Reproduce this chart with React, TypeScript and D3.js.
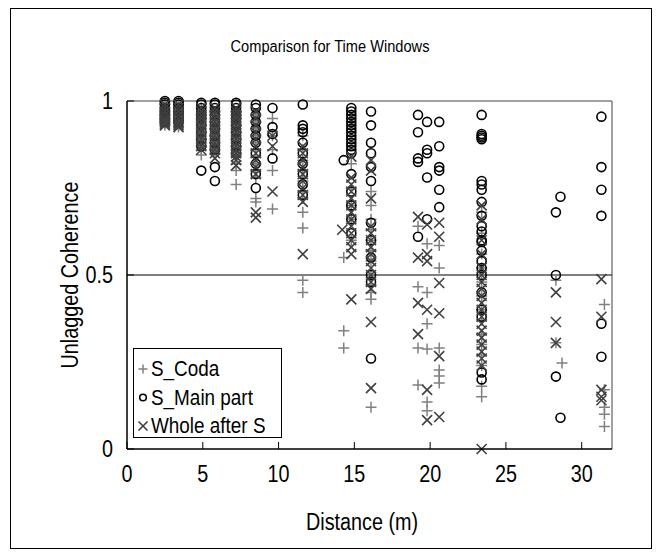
import React from "react";
import * as d3 from "d3";

// ---- data (distance, coherence values) ----
const seriesNames = ["S_Coda", "S_Main part", "Whole after S"];

const sCoda: [number, number[]][] = [
  [2.5, [0.99, 0.98, 0.975, 0.97, 0.965, 0.96, 0.955, 0.95, 0.945, 0.94, 0.935, 0.93]],
  [3.4, [0.99, 0.985, 0.98, 0.97, 0.965, 0.96, 0.95, 0.945, 0.94, 0.935, 0.93, 0.925]],
  [4.9, [0.98, 0.96, 0.95, 0.94, 0.93, 0.92, 0.91, 0.9, 0.89, 0.88, 0.87, 0.86, 0.845]],
  [5.8, [0.97, 0.96, 0.95, 0.94, 0.93, 0.92, 0.9, 0.89, 0.88, 0.87, 0.86, 0.85]],
  [7.2, [0.97, 0.96, 0.95, 0.94, 0.93, 0.92, 0.91, 0.9, 0.89, 0.88, 0.87, 0.86, 0.85, 0.84, 0.82, 0.8, 0.76]],
  [8.5, [0.96, 0.94, 0.92, 0.9, 0.88, 0.86, 0.84, 0.82, 0.8, 0.78, 0.72, 0.71]],
  [9.6, [0.95, 0.9, 0.86, 0.8, 0.69]],
  [11.6, [0.9, 0.86, 0.83, 0.8, 0.77, 0.74, 0.72, 0.68, 0.635, 0.485, 0.45]],
  [14.3, [0.55, 0.34, 0.29]],
  [14.8, [0.82, 0.75, 0.7, 0.66, 0.6]],
  [16.1, [0.74, 0.7, 0.66, 0.63, 0.6, 0.57, 0.54, 0.5, 0.47, 0.45, 0.43, 0.12]],
  [19.2, [0.64, 0.466, 0.29, 0.184]],
  [19.8, [0.59, 0.45, 0.36, 0.287, 0.135, 0.11]],
  [20.6, [0.585, 0.52, 0.29, 0.227, 0.21, 0.19]],
  [23.4, [0.68, 0.62, 0.56, 0.52, 0.48, 0.44, 0.4, 0.37, 0.33, 0.3, 0.27, 0.24, 0.18, 0.15]],
  [28.3, [0.485, 0.305]],
  [28.7, [0.247]],
  [31.5, [0.415, 0.17, 0.12, 0.1, 0.065]],
];

const sMain: [number, number[]][] = [
  [2.5, [1.0, 0.995, 0.99, 0.98, 0.97, 0.96, 0.95, 0.94]],
  [3.4, [1.0, 0.995, 0.99, 0.98, 0.97, 0.96, 0.95, 0.94]],
  [4.9, [0.995, 0.99, 0.98, 0.97, 0.96, 0.95, 0.93, 0.91, 0.89, 0.87, 0.8]],
  [5.8, [0.995, 0.99, 0.98, 0.97, 0.96, 0.94, 0.92, 0.9, 0.88, 0.86, 0.81, 0.77]],
  [7.2, [0.995, 0.99, 0.98, 0.97, 0.96, 0.95, 0.93, 0.91, 0.89, 0.87, 0.85]],
  [8.5, [0.99, 0.98, 0.96, 0.94, 0.92, 0.9, 0.88, 0.85, 0.82, 0.79, 0.75]],
  [9.6, [0.98, 0.925, 0.905, 0.835]],
  [11.6, [0.99, 0.93, 0.92, 0.91, 0.88, 0.85, 0.82, 0.79, 0.76, 0.73]],
  [14.8, [0.98, 0.97, 0.96, 0.95, 0.94, 0.93, 0.92, 0.91, 0.9, 0.89, 0.88, 0.87, 0.86, 0.85, 0.79, 0.74, 0.7, 0.66, 0.62]],
  [14.3, [0.83]],
  [16.1, [0.97, 0.93, 0.88, 0.85, 0.81, 0.77, 0.65, 0.6, 0.55, 0.5, 0.48, 0.26]],
  [19.2, [0.96, 0.91, 0.835, 0.825, 0.61]],
  [19.8, [0.94, 0.86, 0.85, 0.78, 0.66]],
  [20.6, [0.94, 0.87, 0.81, 0.8, 0.745, 0.695]],
  [23.4, [0.96, 0.905, 0.9, 0.895, 0.89, 0.77, 0.76, 0.745, 0.71, 0.67, 0.64, 0.625, 0.6, 0.595, 0.57, 0.54, 0.52, 0.5, 0.45, 0.4, 0.38, 0.22, 0.2]],
  [28.3, [0.68, 0.5, 0.208]],
  [28.6, [0.725, 0.09]],
  [31.3, [0.955, 0.81, 0.745, 0.67, 0.36, 0.265]],
];

const sWhole: [number, number[]][] = [
  [2.5, [0.99, 0.98, 0.97, 0.96, 0.95, 0.945, 0.94, 0.935, 0.93]],
  [3.4, [0.99, 0.98, 0.97, 0.96, 0.95, 0.94, 0.935, 0.93, 0.925]],
  [4.9, [0.98, 0.97, 0.96, 0.95, 0.94, 0.93, 0.92, 0.91, 0.9, 0.89, 0.88, 0.87, 0.86]],
  [5.8, [0.98, 0.97, 0.96, 0.95, 0.94, 0.93, 0.92, 0.91, 0.9, 0.89, 0.88, 0.87, 0.86, 0.85, 0.835]],
  [7.2, [0.98, 0.97, 0.96, 0.95, 0.94, 0.93, 0.92, 0.91, 0.9, 0.89, 0.88, 0.87, 0.86, 0.85, 0.84, 0.83, 0.815]],
  [8.5, [0.97, 0.95, 0.93, 0.91, 0.89, 0.87, 0.85, 0.83, 0.81, 0.79, 0.68, 0.665]],
  [9.6, [0.9, 0.87, 0.74]],
  [11.6, [0.87, 0.85, 0.83, 0.81, 0.79, 0.77, 0.75, 0.73, 0.71, 0.56]],
  [14.2, [0.63]],
  [14.8, [0.84, 0.78, 0.76, 0.74, 0.72, 0.7, 0.68, 0.66, 0.64, 0.62, 0.6, 0.58, 0.56, 0.43]],
  [16.1, [0.83, 0.8, 0.72, 0.64, 0.62, 0.6, 0.58, 0.56, 0.54, 0.52, 0.5, 0.48, 0.46, 0.365, 0.175]],
  [19.2, [0.667, 0.55, 0.42, 0.33]],
  [19.8, [0.645, 0.56, 0.54, 0.4, 0.17, 0.083]],
  [20.6, [0.65, 0.61, 0.477, 0.39, 0.267, 0.092]],
  [23.4, [0.7, 0.66, 0.6, 0.56, 0.52, 0.5, 0.48, 0.46, 0.44, 0.42, 0.4, 0.38, 0.36, 0.34, 0.32, 0.3, 0.28, 0.26, 0.24, 0.0]],
  [28.3, [0.45, 0.365, 0.305]],
  [31.3, [0.488, 0.38, 0.17, 0.15, 0.14]],
];

const xTicks = [0, 5, 10, 15, 20, 25, 30];
const yTicks = [0, 0.5, 1];
const yTickLabels = ["0", "0.5", "1"];

const W = 661;
const H = 557;
const FONT = "'Liberation Sans', Arial, sans-serif";
const SX = 0.86; // narrow-font emulation

const flatten = (s: [number, number[]][]) =>
  s.flatMap(([d, vs]) => vs.map((v) => ({ d, v })));

function T(props: { x: number; y: number; size: number; anchor?: string; rotate?: number; children: any }) {
  const { x, y, size, anchor = "start", rotate = 0, children } = props;
  return (
    <text
      transform={`translate(${x},${y}) rotate(${rotate}) scale(${SX},1)`}
      textAnchor={anchor}
      fontSize={size}
      fill="#000"
    >
      {children}
    </text>
  );
}

export default function App() {
  const left = 127, right = 612, top = 101, bottom = 449;
  const x = d3.scaleLinear().domain([0, 32]).range([left, right]);
  const y = d3.scaleLinear().domain([0, 1]).range([bottom, top]);

  const coda = flatten(sCoda);
  const main = flatten(sMain);
  const whole = flatten(sWhole);

  const plus = (cx: number, cy: number, r: number, key: any, col = "#808080") => (
    <path key={key} d={`M${cx - r},${cy}H${cx + r}M${cx},${cy - r}V${cy + r}`} stroke={col} strokeWidth={1.5} fill="none" />
  );
  const cross = (cx: number, cy: number, r: number, key: any, col = "#404040") => (
    <path key={key} d={`M${cx - r},${cy - r}L${cx + r},${cy + r}M${cx - r},${cy + r}L${cx + r},${cy - r}`} stroke={col} strokeWidth={1.6} fill="none" />
  );
  const circ = (cx: number, cy: number, r: number, key: any) => (
    <circle key={key} cx={cx} cy={cy} r={r} stroke="#000" strokeWidth={1.6} fill="none" />
  );

  return (
    <svg width={W} height={H} style={{ position: "absolute", left: 0, top: 0, background: "#fff" }} fontFamily={FONT}>
      <rect x={0} y={0} width={W} height={H} fill="#fff" />
      <rect x={10.5} y={8.5} width={641} height={540} fill="none" stroke="#000" strokeWidth={1} />
      <T x={330} y={52} size={17} anchor="middle">Comparison for Time Windows</T>

      {/* plot frame */}
      <line x1={left} x2={right} y1={top} y2={top} stroke="#808080" strokeWidth={1.5} />
      <line x1={right} x2={right} y1={top} y2={bottom} stroke="#808080" strokeWidth={1.5} />
      <line x1={left} x2={right} y1={y(0.5)} y2={y(0.5)} stroke="#000" strokeWidth={1} />

      {/* data */}
      <g>{coda.map((p, i) => plus(x(p.d), y(p.v), 5.5, "c" + i))}</g>
      <g>{main.map((p, i) => circ(x(p.d), y(p.v), 4.5, "m" + i))}</g>
      <g>{whole.map((p, i) => cross(x(p.d), y(p.v), 5, "w" + i))}</g>

      {/* axes */}
      <line x1={left} x2={left} y1={top} y2={bottom} stroke="#000" strokeWidth={1.5} />
      <line x1={left} x2={right} y1={bottom} y2={bottom} stroke="#000" strokeWidth={1.5} />
      {xTicks.map((t) => (
        <g key={"xt" + t}>
          <line x1={x(t)} x2={x(t)} y1={bottom} y2={bottom - 7} stroke="#000" strokeWidth={1} />
          <T x={x(t)} y={482} size={23} anchor="middle">{t}</T>
        </g>
      ))}
      {yTicks.map((t, i) => (
        <g key={"yt" + t}>
          <line x1={left} x2={left + 7} y1={y(t)} y2={y(t)} stroke="#000" strokeWidth={1} />
          <T x={113} y={y(t) + 8} size={23} anchor="end">{yTickLabels[i]}</T>
        </g>
      ))}
      <T x={362} y={530} size={23} anchor="middle">Distance (m)</T>
      <T x={78} y={(top + bottom) / 2} size={23} anchor="middle" rotate={-90}>Unlagged Coherence</T>

      {/* legend */}
      <rect x={133.5} y={348.5} width={148} height={89} fill="#fff" stroke="#000" strokeWidth={1} />
      {seriesNames.map((n, i) => {
        const cy = 369 + i * 28.5;
        return (
          <g key={"lg" + i}>
            {i === 0 && plus(143, cy, 4.5, "lp")}
            {i === 1 && circ(143, cy, 3.3, "lc")}
            {i === 2 && cross(143, cy, 4.5, "lx")}
            <T x={151} y={cy + 7} size={22}>{n}</T>
          </g>
        );
      })}
    </svg>
  );
}
